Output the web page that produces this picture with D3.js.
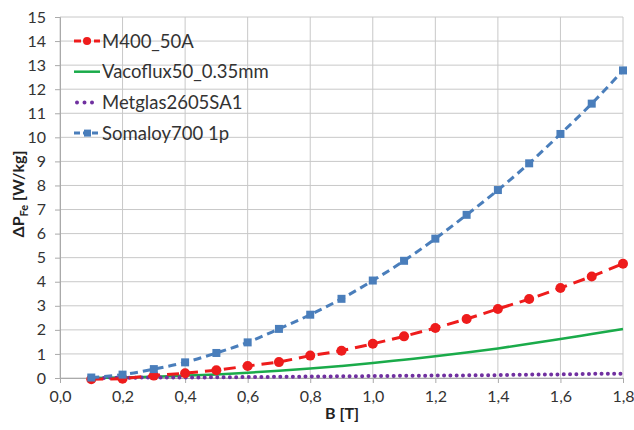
<!DOCTYPE html>
<html>
<head>
<meta charset="utf-8">
<script src="https://cdn.jsdelivr.net/npm/d3@7"></script>
<style>
  body { margin: 0; background: #fff; }
  text { font-family: Lato, "Liberation Sans", Arial, sans-serif; fill: #333; }
  .tick text { font-size: 16px; fill: #333; }
  .legendText { font-size: 18.5px; }
  .axisTitle { font-size: 16px; font-weight: bold; fill: #222; }
</style>
</head>
<body>
<div class="chart"></div>
<script>
// values
var bValues = [0.1, 0.2, 0.3, 0.4, 0.5, 0.6, 0.7, 0.8, 0.9, 1.0, 1.1, 1.2, 1.3, 1.4, 1.5, 1.6, 1.7, 1.8];
var m400 = [-0.05, -0.03, 0.1, 0.2, 0.32, 0.5, 0.66, 0.93, 1.13, 1.42, 1.73, 2.08, 2.45, 2.87, 3.28, 3.74, 4.22, 4.75];
var vacoflux = [0.0, 0.02, 0.05, 0.1, 0.15, 0.22, 0.3, 0.39, 0.5, 0.62, 0.76, 0.9, 1.06, 1.23, 1.42, 1.62, 1.83, 2.04];
var metglas = [0.0, 0.01, 0.02, 0.02, 0.03, 0.04, 0.05, 0.06, 0.07, 0.08, 0.09, 0.1, 0.11, 0.12, 0.14, 0.15, 0.17, 0.18];
var somaloy = [0.02, 0.14, 0.37, 0.65, 1.04, 1.48, 2.04, 2.63, 3.29, 4.05, 4.87, 5.79, 6.78, 7.81, 8.92, 10.14, 11.4, 12.78];
var seriesNames = ["M400_50A", "Vacoflux50_0.35mm", "Metglas2605SA1", "Somaloy700 1p"];
var xTicks = [0, 0.2, 0.4, 0.6, 0.8, 1.0, 1.2, 1.4, 1.6, 1.8];
var yTicks = d3.range(0, 16);

var svgWidth = 634;
var svgHeight = 430;

var margin = { top: 17, right: 11, bottom: 52, left: 60 };
var width = svgWidth - margin.left - margin.right;
var height = svgHeight - margin.top - margin.bottom;

var svg = d3.select(".chart")
  .append("svg")
  .attr("width", svgWidth)
  .attr("height", svgHeight);

var chartGroup = svg.append("g")
  .attr("transform", `translate(${margin.left}, ${margin.top})`);

var xScale = d3.scaleLinear().domain([0, 1.8]).range([0, width]);
var yScale = d3.scaleLinear().domain([0, 15]).range([height, 0]);

// grid
chartGroup.append("g")
  .selectAll("line.h")
  .data(yTicks)
  .enter()
  .append("line")
  .attr("x1", 0).attr("x2", width)
  .attr("y1", d => yScale(d)).attr("y2", d => yScale(d))
  .attr("stroke", "#c8c8c8").attr("stroke-width", 1);

chartGroup.append("g")
  .selectAll("line.v")
  .data(xTicks)
  .enter()
  .append("line")
  .attr("x1", d => xScale(d)).attr("x2", d => xScale(d))
  .attr("y1", 0).attr("y2", height)
  .attr("stroke", "#c8c8c8").attr("stroke-width", 1);

// axes
var leftAxis = d3.axisLeft(yScale).tickValues(yTicks).tickSize(5).tickPadding(9);
var bottomAxis = d3.axisBottom(xScale).tickValues(xTicks).tickSize(5).tickPadding(8)
  .tickFormat(d => d3.format(".1f")(d).replace(".", ","));

var yAxisG = chartGroup.append("g").call(leftAxis);
var xAxisG = chartGroup.append("g").attr("transform", `translate(0, ${height})`).call(bottomAxis);
[yAxisG, xAxisG].forEach(function(g) {
  g.select(".domain").attr("stroke", "#aaa");
  g.selectAll(".tick line").attr("stroke", "#aaa");
  g.selectAll(".tick text").attr("fill", "#333");
});

// series
var line = d3.line()
  .x((d, i) => xScale(bValues[i]))
  .y(d => yScale(d));
var smooth = d3.line()
  .x((d, i) => xScale(bValues[i]))
  .y(d => yScale(d))
  .curve(d3.curveMonotoneX);

chartGroup.append("path").datum(vacoflux)
  .attr("d", smooth).attr("fill", "none")
  .attr("stroke", "#1aab4a").attr("stroke-width", 2.5);

chartGroup.append("path").datum(metglas)
  .attr("d", smooth).attr("fill", "none")
  .attr("stroke", "#7030a0").attr("stroke-width", 4)
  .attr("stroke-linecap", "round").attr("stroke-dasharray", "0,6.3");

chartGroup.append("path").datum(m400)
  .attr("d", line).attr("fill", "none")
  .attr("stroke", "#ee1c1c").attr("stroke-width", 3)
  .attr("stroke-dasharray", "12,7");

chartGroup.selectAll(".m400dot")
  .data(m400)
  .enter()
  .append("circle")
  .attr("cx", (d, i) => xScale(bValues[i]))
  .attr("cy", d => yScale(d))
  .attr("r", 5)
  .attr("fill", "#ee1c1c");

chartGroup.append("path").datum(somaloy)
  .attr("d", smooth).attr("fill", "none")
  .attr("stroke", "#4a7ebb").attr("stroke-width", 3)
  .attr("stroke-dasharray", "8,5");

chartGroup.selectAll(".somdot")
  .data(somaloy)
  .enter()
  .append("rect")
  .attr("x", (d, i) => xScale(bValues[i]) - 4)
  .attr("y", d => yScale(d) - 4)
  .attr("width", 8).attr("height", 8)
  .attr("fill", "#4a7ebb");

// legend
var legendRows = [
  { name: seriesNames[0], color: "#ee1c1c", type: "m400" },
  { name: seriesNames[1], color: "#1aab4a", type: "solid" },
  { name: seriesNames[2], color: "#7030a0", type: "dots" },
  { name: seriesNames[3], color: "#4a7ebb", type: "som" }
];
var legend = svg.append("g").attr("transform", "translate(73, 41)");
legendRows.forEach(function(r, i) {
  var g = legend.append("g").attr("transform", `translate(0, ${i * 30.7})`);
  var l = g.append("line").attr("x1", 1).attr("x2", 27).attr("y1", 0).attr("y2", 0)
    .attr("stroke", r.color);
  if (r.type === "m400") {
    l.attr("stroke-width", 3).attr("stroke-dasharray", "7,3");
    g.append("circle").attr("cx", 14).attr("cy", 0).attr("r", 4).attr("fill", r.color);
  } else if (r.type === "solid") {
    l.attr("stroke-width", 2.5);
  } else if (r.type === "dots") {
    l.attr("stroke-width", 4).attr("stroke-linecap", "round").attr("stroke-dasharray", "0,7.5")
      .attr("x1", 4).attr("x2", 23);
  } else {
    l.attr("stroke-width", 3).attr("stroke-dasharray", "6,3");
    g.append("rect").attr("x", 11).attr("y", -3.5).attr("width", 7).attr("height", 7).attr("fill", r.color);
  }
  g.append("text").attr("class", "legendText")
    .attr("x", 29).attr("y", 6.5).text(r.name);
});

// axis titles
var yTitle = svg.append("text")
  .attr("class", "axisTitle")
  .attr("transform", "translate(24, 194) rotate(-90)")
  .attr("text-anchor", "middle");
yTitle.append("tspan").text("ΔP");
yTitle.append("tspan").attr("dy", 4).attr("font-size", "11px").text("Fe");
yTitle.append("tspan").attr("dy", -4).text(" [W/kg]");

svg.append("text")
  .attr("class", "axisTitle")
  .attr("x", 342).attr("y", 419)
  .attr("text-anchor", "middle")
  .text("B [T]");
</script>
</body>
</html>
